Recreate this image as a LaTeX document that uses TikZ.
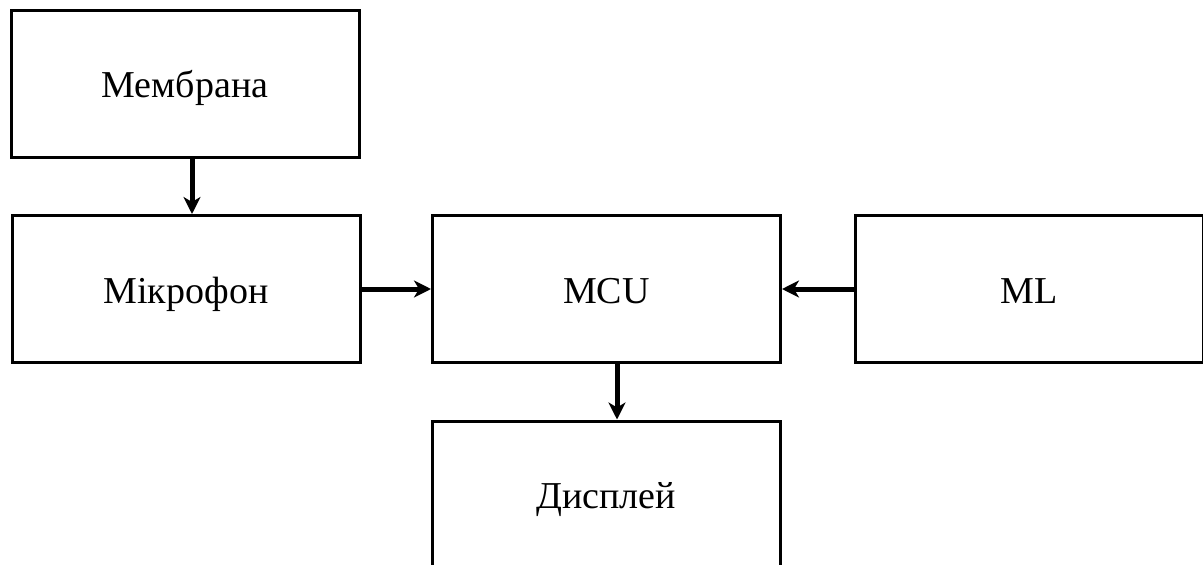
\documentclass[tikz,border=0pt]{standalone}
\usepackage{fontspec}
\setmainfont{Liberation Serif}
\usetikzlibrary{arrows.meta,calc}
\begin{document}
\begin{tikzpicture}[x=1pt,y=-1pt,
  block/.style={draw=black, line width=3pt, minimum width=348pt, minimum height=147pt,
    inner sep=0pt, text height=28pt, text depth=0pt, font=\fontsize{38}{45}\selectfont},
  flow/.style={line width=5pt, -{Stealth[length=17pt,width=17pt,inset=5pt]}}]
\useasboundingbox (0,0) rectangle (1203,565);
\begin{scope}
\clip (0,0) rectangle (1203,565);
\node[block] (memb) at (185,83.5) {Мембрана};
\node[block] (mic)  at (186,289) {Мікрофон};
\node[block] (mcu)  at (606.5,289) {MCU};
\node[block] (ml)   at (1029,289) {ML};
\node[block] (disp) at (606,494.5) {Дисплей};
\draw[flow] ([xshift=7pt]memb.south) -- ([xshift=6pt]mic.north);
\draw[flow] (mic.east) -- (mcu.west);
\draw[flow] (ml.west) -- (mcu.east);
\draw[flow] ([xshift=10.5pt]mcu.south) -- ([xshift=11pt]disp.north);
\end{scope}
\end{tikzpicture}
\end{document}
